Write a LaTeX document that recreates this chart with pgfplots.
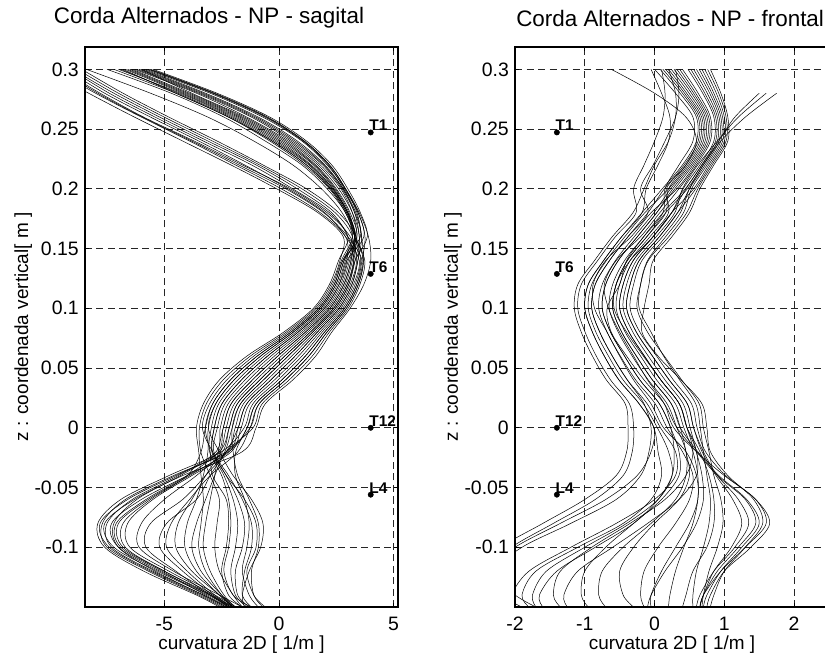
\documentclass[border=0pt]{standalone}
\usepackage{pgfplots}
\pgfplotsset{compat=1.18}
\usepackage{pgfplotstable}
\usepackage{fontspec}
\setmainfont{Liberation Sans}

% Sagittal curvature of each trial, sampled along the vertical coordinate z
\pgfplotstableread{
y     c1    c2    c3    c4    c5    c6    c7    c8    c9    c10   c11   c12   c13   c14   c15   c16   c17    c18    c19   c20    c21   c22    c23   c24    c25    c26   c27   c28   c29   c30
0.30  -5.6  -5.9  -6.2  -6.0  -6.5  -7.0  -5.8  -6.3  -7.5  -6.8  -9.3  -9.8  -9.0  -10.2 -9.5  -8.6  -6.1   -5.7   -6.6  -7.2   -9.1  -9.6   -5.5  -6.9   -8.8   -6.4  -6.0  -5.65 -6.7  -8.4
0.28  -2.8  -3.2  -3.5  -3.8  -4.0  -4.3  -3.0  -3.6  -4.7  -4.5  -7.6  -8.0  -7.2  -8.3  -7.8  -6.8  -3.4   -2.9   -4.1  -4.5   -7.4  -7.9   -2.7  -4.4   -7.0   -3.9  -3.3  -2.85 -4.2  -5.6
0.26  -0.5  -0.9  -1.2  -1.5  -1.7  -2.0  -0.7  -1.4  -2.4  -2.2  -5.6  -6.0  -5.2  -6.3  -5.9  -4.8  -1.1   -0.6   -1.8  -2.2   -5.4  -5.95  -0.4  -2.1   -5.0   -1.6  -1.0  -0.55 -1.9  -3.1
0.24  1.1   0.8   0.5   0.3   0.1   -0.2  1.0   0.4   -0.6  -0.4  -3.5  -3.9  -3.1  -4.2  -3.7  -2.7  0.6    1.05   0.0   -0.3   -3.3  -3.8   1.2   -0.3   -2.9   0.2   0.7   1.1   -0.1  -1.1
0.22  2.2   2.0   1.8   1.6   1.5   1.3   2.1   1.7   1.0   1.1   -1.5  -1.9  -1.0  -2.1  -1.6  -0.7  1.9    2.15   1.4   1.2    -1.2  -1.75  2.3   1.2    -0.85  1.55  1.95  2.2   1.35  0.6
0.20  2.9   2.8   2.7   2.5   2.4   2.3   2.9   2.6   2.1   2.2   0.4   0.1   0.8   -0.1  0.5   1.2   2.75   2.85   2.35  2.25   0.6   0.3    3.0   2.25   1.0    2.45  2.8   2.9   2.35  1.85
0.18  3.4   3.3   3.2   3.1   3.0   3.0   3.5   3.2   2.9   2.9   2.0   1.8   2.3   1.7   2.1   2.6   3.3    3.45   3.0   2.95   2.2   1.95   3.55  2.95   2.45   3.05  3.35  3.45  3.0   2.75
0.16  3.6   3.5   3.4   3.4   3.3   3.3   3.9   3.5   3.2   3.3   2.9   2.9   3.0   2.8   3.1   3.3   3.55   3.75   3.35  3.3    3.0   3.0    3.85  3.3    3.2    3.35  3.6   3.7   3.35  3.2
0.14  3.68  3.44  3.2   2.84  3.56  3.02  4.0   3.32  2.72  3.14  3.5   2.96  3.26  2.66  3.38  2.9   2.78   3.62   3.08  3.74   2.6   3.62   3.32  2.78   3.14   3.68  3.44  2.96  3.26  2.84
0.12  3.46  3.18  2.9   2.48  3.32  2.69  3.7   3.04  2.34  2.83  3.25  2.62  2.97  2.27  3.11  2.55  2.41   3.39   2.76  3.53   2.2   3.39   3.04  2.41   2.83   3.46  3.18  2.62  2.97  2.48
0.10  2.94  2.62  2.3   1.82  2.78  2.06  3.1   2.46  1.66  2.22  2.7   1.98  2.38  1.58  2.54  1.9   1.74   2.86   2.14  3.02   1.5   2.86   2.46  1.74   2.22   2.94  2.62  1.98  2.38  1.82
0.08  2.09  1.67  1.25  0.62  1.88  0.94  2.3   1.46  0.41  1.15  1.78  0.83  1.36  0.31  1.57  0.73  0.515  1.985  1.04  2.195  0.2   1.985  1.46  0.515  1.145  2.09  1.67  0.83  1.36  0.62
0.06  1.3   0.7   0.1   -0.8  1.0   -0.35 1.6   0.4   -1.1  -0.05 0.85  -0.5  0.25  -1.25 0.55  -0.65 -0.95  1.15   -0.2  1.45   -1.4  1.15   0.4   -0.95  -0.05  1.3   0.7   -0.5  0.25  -0.8
0.04  0.28  -0.36 -1.0  -1.96 -0.04 -1.48 0.6   -0.68 -2.28 -1.16 -0.2  -1.64 -0.84 -2.44 -0.52 -1.8  -2.12  0.12   -1.32 0.44   -2.6  0.12   -0.68 -2.12  -1.16  0.28  -0.36 -1.64 -0.84 -1.96
0.02  -0.87 -1.41 -1.95 -2.76 -1.14 -2.36 -0.6  -1.68 -3.03 -2.09 -1.28 -2.49 -1.82 -3.17 -1.55 -2.63 -2.895 -1.005 -2.22 -0.735 -3.3  -1.005 -1.68 -2.895 -2.085 -0.87 -1.41 -2.49 -1.82 -2.76
0.00  -1.26 -1.78 -2.3  -3.08 -1.52 -2.69 -1.0  -2.04 -3.34 -2.43 -1.65 -2.82 -2.17 -3.47 -1.91 -2.95 -3.21  -1.39  -2.56 -1.13  -3.6  -1.39  -2.04 -3.21  -2.43  -1.26 -1.78 -2.82 -2.17 -3.08
-0.02 -2.3  -2.17 -2.55 -2.6  -2.5  -2.84 -1.6  -2.36 -2.9  -2.65 -2.08 -2.93 -2.46 -3.41 -2.27 -3.03 -3.4   -1.885 -2.74 -2.3   -3.5  -2.2   -2.0  -3.0   -2.645 -1.79 -2.3  -2.9  -2.6  -3.1
-0.04 -4.5  -4.0  -3.2  -2.0  -4.8  -2.2  -4.2  -3.0  -2.3  -2.8  -3.8  -2.4  -3.6  -3.0  -3.9  -2.5  -4.0   -1.9   -4.4  -2.8   -3.4  -4.6   -1.8  -2.9   -4.0   -3.0  -3.2  -2.3  -4.3  -3.3
-0.06 -6.6  -6.0  -3.8  -1.2  -6.9  -1.6  -6.3  -3.6  -1.5  -3.0  -5.5  -2.0  -5.0  -2.6  -5.7  -2.2  -5.6   -1.5   -6.4  -3.2   -3.3  -6.7   -1.3  -2.3   -5.8   -3.9  -4.2  -1.8  -6.2  -3.6
-0.08 -7.8  -7.3  -4.4  -0.7  -7.9  -1.2  -7.6  -4.9  -1.0  -3.2  -6.6  -1.8  -6.0  -2.7  -7.0  -2.1  -6.8   -1.3   -7.5  -3.6   -3.4  -7.7   -0.9  -2.2   -7.1   -4.7  -5.6  -1.5  -7.2  -4.0
-0.10 -7.4  -7.0  -4.5  -0.8  -7.6  -1.2  -7.2  -5.2  -1.0  -3.3  -6.5  -1.9  -6.1  -2.8  -6.8  -2.2  -6.7   -1.4   -7.3  -3.8   -3.5  -7.5   -0.9  -2.3   -6.9   -4.9  -5.8  -1.6  -7.0  -4.1
-0.12 -5.6  -5.2  -3.8  -1.3  -5.9  -1.5  -5.3  -4.2  -1.4  -3.0  -4.8  -2.1  -4.6  -2.6  -5.0  -2.4  -5.0   -1.6   -5.5  -3.4   -3.2  -5.7   -1.2  -2.5   -5.1   -4.0  -4.5  -1.9  -5.4  -3.6
-0.14 -3.4  -3.0  -2.6  -1.6  -3.6  -1.6  -3.1  -2.9  -1.1  -2.4  -2.8  -1.9  -2.6  -2.0  -2.9  -2.0  -3.0   -1.3   -3.3  -2.5   -2.5  -3.5   -1.1  -2.2   -3.2   -2.8  -3.0  -1.8  -3.3  -2.6
-0.15 -2.4  -2.0  -2.0  -1.5  -2.6  -1.2  -2.1  -2.2  -0.6  -1.9  -1.9  -1.4  -1.6  -1.6  -2.0  -1.2  -2.1   -0.9   -2.3  -1.9   -2.0  -2.5   -0.7  -1.6   -2.2   -2.1  -2.2  -1.3  -2.3  -2.0
}\sagital

% Frontal curvature of each trial
\pgfplotstableread{
y     d1     d2    d3    d4    d5     d6     d7     d8     d9     d10    d11   d12    d13   d14    d15   d16   d17   d18    d19    d20    d21   d22    d23   d24   d25    d26   d27
0.30  0.40   0.56  0.24  0.72  0.20   0.10   0.48   0.32   0.64   0.30   -0.05 0.00   0.80  0.16   -0.62 nan   nan   0.28   nan    0.52   0.08  0.68   0.36  0.60  0.20   0.76  0.12
0.28  0.625  0.755 0.495 0.885 0.30   0.15   0.69   0.56   0.82   0.35   0.10  0.30   0.95  0.43   0.00  1.75  1.60  0.53   1.50   0.72   0.365 0.85   0.59  0.79  0.46   0.92  0.40
0.26  0.80   0.90  0.70  1.00  0.30   0.12   0.85   0.75   0.95   0.30   0.22  0.55   1.05  0.65   0.45  1.30  1.20  0.725  1.15   0.875  0.60  0.975  0.775 0.925 0.675  1.025 0.625
0.24  0.80   0.90  0.70  1.00  0.20   0.00   0.85   0.75   0.95   0.15   0.20  0.55   1.05  0.65   0.60  0.95  0.90  0.725  0.92   0.875  0.60  0.975  0.775 0.925 0.675  1.025 0.625
0.22  0.60   0.70  0.50  0.80  0.00   -0.15  0.65   0.55   0.75   -0.02  0.05  0.35   0.85  0.45   0.45  0.70  0.62  0.525  0.68   0.675  0.40  0.775  0.575 0.725 0.475  0.825 0.425
0.20  0.35   0.47  0.23  0.59  -0.15  -0.30  0.41   0.29   0.53   -0.20  -0.12 0.15   0.65  0.17   0.20  0.50  0.40  0.26   0.45   0.44   0.11  0.56   0.32  0.50  0.20   0.62  0.14
0.18  0.075  0.16  -0.01 0.33  -0.31  -0.265 0.245  0.03   0.415  -0.095 -0.18 0.12   0.50  0.20   0.16  0.37  0.29  0.03   0.245  0.12   -0.18 0.245  -0.05 0.33  -0.14  0.46  -0.095
0.16  -0.20  -0.11 -0.29 0.07  -0.605 -0.56  -0.02  -0.245 0.16   -0.38  -0.47 -0.155 0.25  -0.065 -0.11 0.115 0.025 -0.245 -0.02  -0.155 -0.47 -0.02  -0.335 0.07 -0.425 0.205 -0.38
0.14  -0.55  -0.39 -0.56 -0.22 -0.86  -0.815 -0.35  -0.52  -0.10  -0.645 -0.73 -0.43  -0.02 -0.35  -0.39 -0.18 -0.26 -0.52  -0.305 -0.40  -0.73 -0.305 -0.70 -0.22 -0.69  -0.09 -0.645
0.12  -0.72  -0.55 -0.75 -0.35 -1.10  -1.05  -0.55  -0.70  -0.20  -0.85  -0.95 -0.60  -0.08 -0.50  -0.55 -0.30 -0.40 -0.70  -0.45  -0.50  -0.95 -0.45  -0.88 -0.35 -0.90  -0.20 -0.85
0.10  -0.66  -0.60 -0.80 -0.40 -1.15  -1.10  -0.58  -0.75  -0.22  -0.90  -1.00 -0.65  -0.15 -0.55  -0.60 -0.35 -0.45 -0.75  -0.50  -0.68  -1.00 -0.50  -0.86 -0.40 -0.95  -0.25 -0.90
0.08  -0.50  -0.47 -0.68 -0.26 -1.05  -0.995 -0.40  -0.63  -0.05  -0.785 -0.89 -0.52  -0.18 -0.42  -0.47 -0.21 -0.31 -0.63  -0.365 -0.62  -0.89 -0.365 -0.68 -0.26 -0.84  -0.10 -0.785
0.06  -0.30  -0.26 -0.49 -0.03 -0.89  -0.835 -0.16  -0.43  0.13   -0.605 -0.72 -0.32  0.05  -0.20  -0.26 0.03  -0.09 -0.43  -0.145 -0.40  -0.72 -0.145 -0.50 -0.03 -0.66  0.14  -0.605
0.04  -0.10  -0.03 -0.27 0.21  -0.69  -0.63  0.09   -0.21  0.36   -0.39  -0.51 -0.09  0.38  0.03   -0.03 0.27  0.15  -0.21  0.09   -0.15  -0.51 0.09   -0.30 0.21  -0.45  0.39  -0.39
0.02  0.14   0.24  0.01  0.47  -0.42  -0.36  0.355  0.07   0.59   -0.15  -0.22 0.18   0.68  0.30   0.24  0.53  0.41  0.07   0.355  0.14   -0.22 0.355  -0.05 0.47  -0.16  0.64  -0.105
0.00  0.275  0.37  0.18  0.56  -0.38  -0.30  0.465  0.23   0.655  -0.05  -0.01 0.32   0.75  0.42   0.37  0.61  0.51  0.23   0.465  0.32   -0.01 0.465  0.13  0.56  0.04   0.70  0.085
-0.02 0.60   0.62  0.40  0.70  -0.40  -0.32  0.55   0.35   0.70   -0.08  0.05  0.45   0.80  0.55   0.45  0.73  0.60  0.28   0.65   0.60   -0.05 0.60   0.45  0.68  0.20   0.78  0.30
-0.04 1.00   0.92  0.55  0.90  -0.55  -0.45  0.45   0.35   0.75   -0.20  0.10  0.45   1.05  0.62   0.50  1.02  0.68  0.25   0.78   0.90   -0.25 0.60   0.60  0.88  0.25   0.85  0.30
-0.06 1.45   1.32  0.50  1.20  -1.00  -0.85  0.15   0.10   0.80   -0.55  -0.05 0.30   1.42  0.62   0.35  1.45  0.70  0.05   0.85   1.30   -0.70 0.35   0.62  1.12  0.05   0.95  0.00
-0.08 1.65   1.50  0.30  1.35  -1.60  -1.45  -0.35  -0.30  0.78   -1.20  -0.45 -0.05  1.55  0.55   0.00  1.60  0.60  -0.30  0.85   1.45   -1.35 -0.10  0.50  1.25  -0.40  0.98  -0.55
-0.10 1.38   1.25  0.05  1.15  -2.20  -2.05  -0.90  -0.70  0.70   -1.90  -1.10 -0.45  1.30  0.42   -0.30 1.30  0.40  -0.85  0.75   1.20   -2.00 -0.60  0.30  1.10  -1.00  0.90  -1.20
-0.12 1.00   0.95  -0.15 0.85  -2.50  -2.40  -1.35  -1.00  0.60   -2.30  -1.70 -0.75  1.00  0.30   -0.50 0.95  0.15  -1.40  0.55   0.90   -2.40 -1.10  0.10  0.85  -1.55  0.78  -1.80
-0.14 0.80   0.75  -0.20 0.65  -2.20  -2.00  -1.45  -1.05  0.55   -2.30  -1.90 -0.80  0.85  0.22   -0.45 0.70  -0.05 -1.65  0.45   0.70   -2.30 -1.30  -0.05 0.70  -1.75  0.70  -2.05
-0.15 0.75   0.70  -0.15 0.60  -1.90  -1.70  -1.35  -0.95  0.55   -2.10  -1.80 -0.70  0.80  0.20   -0.30 0.65  -0.10 -1.60  0.40   0.65   -2.10 -1.25  -0.05 0.65  -1.70  0.68  -2.00
}\frontal

\pgfplotsset{
  spine/.style={
    scale only axis, height=560bp,
    ymin=-0.15, ymax=0.3187,
    ytick={-0.1,-0.05,0,0.05,0.1,0.15,0.2,0.25,0.3},
    yticklabels={-0.1,-0.05,0,0.05,0.1,0.15,0.2,0.25,0.3},
    /pgf/number format/assume math mode=true,
    grid=major,
    major grid style={black!85, dash pattern=on 7bp off 4.5bp, line width=0.7bp},
    axis line style={line width=1.1bp},
    tick style={black, line width=0.7bp},
    major tick length=4bp,
    tick align=inside,
    tick label style={font=\fontsize{19.5}{22}\selectfont},
    xticklabel style={anchor=north, inner sep=0pt, yshift=-10bp},
    yticklabel style={anchor=east, inner sep=0pt, xshift=-6bp},
    xlabel={curvatura 2D [ 1/m ]},
    ylabel={z :  coordenada vertical[ m ]},
    xlabel style={font=\fontsize{19}{22}\selectfont, at={(axis description cs:0.5,0)}, anchor=base, yshift=-42.5bp, inner sep=0pt},
    ylabel style={font=\fontsize{19}{22}\selectfont, at={(axis description cs:-0.182,0.5)}, anchor=base, inner sep=0pt},
    title style={font=\fontsize{22.5}{25}\selectfont, anchor=base, inner sep=0pt},
  },
  curve/.style={black, line width=0.5bp, smooth, tension=0.55, mark=none},
  vertebra/.style={only marks, mark=*, mark size=2.7bp, black,
    point meta=explicit symbolic, nodes near coords,
    nodes near coords style={anchor=base west, inner sep=0pt,
      xshift=-1.5bp, yshift=1.5bp, text=black,
      font=\fontsize{15.5}{17}\selectfont\bfseries}},
}

\begin{document}
\begin{tikzpicture}
% sagittal plane
\begin{axis}[spine, width=313bp,
  xmin=-8.46, xmax=5.19,
  xtick={-5,0,5}, xticklabels={-5,0,5},
  title={Corda Alternados - NP - sagital},
  title style={at={(0.396,1)}, yshift=17.4bp}]
\pgfplotsinvokeforeach{1,...,30}{
  \addplot[curve] table[x=c#1, y=y]{\sagital};
}
\addplot[vertebra] coordinates {
  (4,0.2472)[T1] (4,0.1288)[T6] (4,0)[T12] (4,-0.056)[L4]};
\end{axis}

% frontal plane
\begin{axis}[spine, at={(430bp,0)}, width=314bp,
  xmin=-2, xmax=2.5,
  xtick={-2,-1,0,1,2}, xticklabels={-2,-1,0,1,2},
  title={Corda Alternados - NP - frontal},
  title style={at={(0.494,1)}, yshift=15bp}]
\pgfplotsinvokeforeach{1,...,27}{
  \addplot[curve] table[x=d#1, y=y]{\frontal};
}
\addplot[vertebra] coordinates {
  (-1.4,0.2472)[T1] (-1.4,0.1288)[T6] (-1.4,0)[T12] (-1.4,-0.056)[L4]};
\end{axis}

\pgfresetboundingbox
\path[use as bounding box] (-85bp,-46bp) rectangle (740bp,607bp);
\end{tikzpicture}
\end{document}
